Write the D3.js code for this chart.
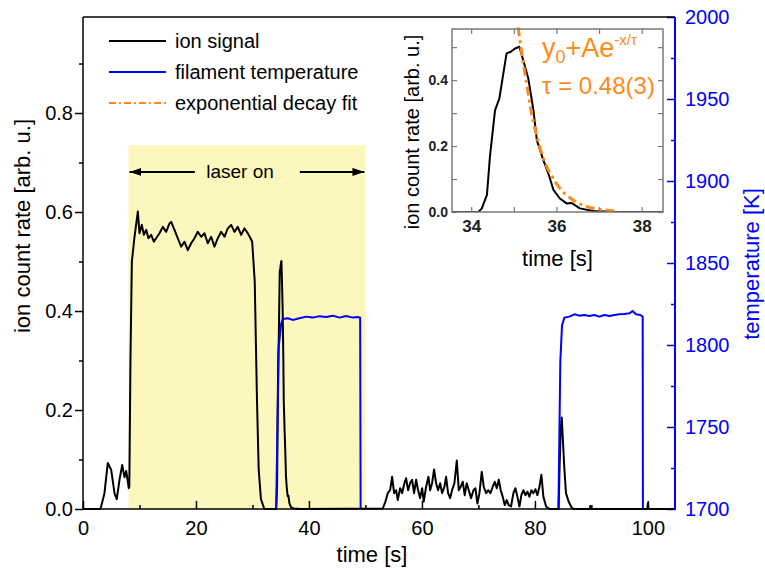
<!DOCTYPE html>
<html>
<head>
<meta charset="utf-8">
<script src="https://cdn.jsdelivr.net/npm/d3@7"></script>
<style>
  body { margin: 0; background: #fff; }
  text { font-family: "Liberation Sans", Arial, sans-serif; }
</style>
</head>
<body>
<div id="chart"></div>
<script>
// ion count rate [arb. u.] vs time [s]
var ionSignal = [
  [0,0],[3.1,0],[3.8,0.032],[4.39,0.093],[4.99,0.079],[5.58,0.032],[5.98,0.02],[6.46,0.059],
  [6.94,0.089],[7.35,0.064],[7.65,0.077],[8.1,0.042],[8.2,0.045],[8.4,0.3],[8.65,0.5],
  [9.12,0.55],[9.71,0.601],[10.0,0.557],[10.41,0.574],[10.77,0.554],[11.18,0.564],[11.59,0.547],
  [12.07,0.554],[12.54,0.54],[12.95,0.547],[13.54,0.557],[14.13,0.57],[14.72,0.56],[15.31,0.577],
  [15.61,0.58],[16.19,0.564],[16.78,0.547],[17.38,0.53],[17.96,0.54],[18.55,0.523],[19.15,0.537],
  [19.73,0.547],[20.32,0.56],[20.92,0.55],[21.5,0.557],[22.09,0.537],[22.69,0.55],[23.27,0.53],
  [23.86,0.547],[24.46,0.56],[25.04,0.55],[25.63,0.567],[26.23,0.574],[26.81,0.56],[27.4,0.57],
  [28.0,0.554],[28.58,0.567],[29.17,0.557],[29.65,0.547],[29.95,0.54],[30.4,0.46],[30.8,0.22],
  [31.1,0.08],[31.5,0.02],[32.1,0],
  [34.17,0],[34.25,0.011],[34.37,0.052],[34.44,0.168],[34.56,0.309],[34.66,0.344],[34.83,0.481],
  [34.93,0.486],[35.03,0.496],[35.13,0.501],[35.22,0.461],[35.34,0.405],[35.46,0.309],[35.54,0.218],
  [35.69,0.158],[35.81,0.117],[35.93,0.067],[36.08,0.041],[36.24,0.026],[36.36,0.027],[36.55,0.011],
  [36.86,0.003],[37.3,0.001],[38.5,0],
  [53.07,0.001],[53.54,0.015],[53.95,0.032],[54.37,0.038],[54.72,0.065],[55.08,0.032],[55.43,0.038],
  [55.72,0.018],[56.14,0.042],[56.49,0.032],[56.9,0.052],[57.2,0.062],[57.55,0.038],[57.91,0.052],
  [58.26,0.059],[58.61,0.032],[58.97,0.059],[59.32,0.038],[59.67,0.022],[60.03,0.042],[60.32,0.015],
  [60.74,0.045],[61.15,0.065],[61.45,0.038],[61.8,0.052],[62.15,0.08],[62.51,0.052],[62.86,0.038],
  [63.22,0.052],[63.57,0.032],[63.98,0.045],[64.28,0.065],[64.63,0.032],[64.99,0.022],[65.34,0.038],
  [65.75,0.052],[66.17,0.098],[66.52,0.038],[66.87,0.045],[67.23,0.055],[67.58,0.028],[67.93,0.052],
  [68.29,0.038],[68.7,0.022],[69.12,0.038],[69.47,0.042],[69.82,0.011],[70.18,0.032],[70.59,0.075],
  [70.94,0.045],[71.36,0.032],[71.72,0.038],[72.12,0.032],[72.54,0.045],[72.89,0.055],[73.24,0.042],
  [73.6,0.059],[73.95,0.038],[74.3,0.025],[74.66,0.008],[75.01,0.018],[75.36,0.008],[75.78,0.005],
  [76.19,0.032],[76.55,0.042],[76.9,0.025],[77.26,0.005],[77.61,0.028],[77.96,0.038],[78.32,0.028],
  [78.67,0.035],[79.03,0.025],[79.38,0.038],[79.73,0.032],[80.09,0.04],[80.44,0.028],[80.8,0.045],
  [81.15,0.069],[81.5,0.025],[81.98,0.005],[82.57,0],
  [84.2,0],[84.37,0.085],[84.57,0.16],[84.75,0.185],[85.2,0.085],[85.5,0.032],[86.0,0.014],
  [86.5,0.003],[86.9,0],[89.7,0],[89.8,0.006],[89.9,0],[99.9,0],[100.0,0.012],[100.1,0],[104.8,0]
];

// filament temperature [K], the two heating pulses
var tempPulse1 = [
  [34.19,1700],[34.66,1799],[35.08,1813],[35.37,1815.9],[36.25,1816.3],[37.14,1815.3],[38.32,1816.3],
  [39.5,1817.3],[40.68,1816.7],[41.86,1817.6],[43.04,1817.1],[44.22,1817.9],[45.4,1816.7],
  [46.58,1817.7],[47.76,1816.7],[48.64,1817.1],[49.06,1816.7],[49.15,1700]
];
var tempPulse2 = [
  [84.16,1700],[84.5,1790],[84.8,1812],[85.22,1816.7],[86.1,1817.3],[86.99,1818.7],[87.88,1817.9],
  [88.76,1818.3],[89.65,1817.7],[90.53,1818.3],[91.42,1817.3],[92.3,1818.3],[93.19,1817.7],
  [94.07,1818.3],[94.96,1818.7],[95.84,1818.9],[96.73,1819.3],[97.3,1820.7],[97.9,1818.7],
  [98.67,1818.3],[99.08,1817.3],[99.12,1700]
];

// exponential decay fit shown in the inset
var decayFit = [
  [35.1,0.56],[35.2,0.47],[35.3,0.39],[35.4,0.31],[35.5,0.25],[35.6,0.2],[35.7,0.16],[35.8,0.13],
  [36.0,0.085],[36.2,0.055],[36.4,0.035],[36.6,0.022],[36.8,0.013],[37.0,0.008],[37.2,0.005],[37.4,0.003]
];

var laserWindow = [8.05, 50.0], laserHeight = 0.735;

var xTicks = d3.range(0, 101, 10), xLabels = [0, 20, 40, 60, 80, 100];
var yTicks = d3.range(0, 10).map(function (d) { return d / 10; }), yLabels = [0, 0.2, 0.4, 0.6, 0.8];
var tTicks = d3.range(1700, 2001, 25), tLabels = [1700, 1750, 1800, 1850, 1900, 1950, 2000];
var insetXTicks = [34, 35, 36, 37, 38], insetXLabels = [34, 36, 38];
var insetYTicks = [0, 0.1, 0.2, 0.3, 0.4, 0.5], insetYLabels = [0, 0.2, 0.4];

var width = 765, height = 570;
var plot = {left: 83, right: 675, top: 17, bottom: 509};
var box = {left: 452, right: 663, top: 29, bottom: 212};
var orange = '#ff8a1c', blue = '#0000ff';

var svg = d3.select('#chart').append('svg')
  .attr('width', width).attr('height', height);

var x = d3.scaleLinear().domain([0, 104.8]).range([plot.left, plot.right]);
var y = d3.scaleLinear().domain([0, 0.994]).range([plot.bottom, plot.top]);
var yT = d3.scaleLinear().domain([1700, 2000]).range([plot.bottom, plot.top]);

function has(list, v) {
  return list.some(function (d) { return Math.abs(d - v) < 1e-6; });
}

// shaded laser-on window
svg.append('rect')
  .attr('x', x(laserWindow[0])).attr('y', y(laserHeight))
  .attr('width', x(laserWindow[1]) - x(laserWindow[0]))
  .attr('height', y(0) - y(laserHeight))
  .attr('fill', '#fcf7bd');

// arrows + label
var defs = svg.append('defs');
defs.append('marker').attr('id', 'arr').attr('viewBox', '0 0 12 8')
  .attr('refX', 12).attr('refY', 4).attr('markerWidth', 12).attr('markerHeight', 8)
  .attr('markerUnits', 'userSpaceOnUse').attr('orient', 'auto')
  .append('path').attr('d', 'M0,0L12,4L0,8Z').attr('fill', '#000');

var arrowY = y(0.681);
svg.append('line').attr('x1', x(19.8)).attr('x2', x(laserWindow[0]) + 1)
  .attr('y1', arrowY).attr('y2', arrowY).attr('stroke', '#000').attr('stroke-width', 2)
  .attr('marker-end', 'url(#arr)');
svg.append('line').attr('x1', x(38.4)).attr('x2', x(laserWindow[1]) - 1)
  .attr('y1', arrowY).attr('y2', arrowY).attr('stroke', '#000').attr('stroke-width', 2)
  .attr('marker-end', 'url(#arr)');
svg.append('text').attr('x', x(27.8)).attr('y', arrowY + 6)
  .attr('text-anchor', 'middle').attr('font-size', 19).text('laser on');

// data lines
var line = d3.line().x(function (d) { return x(d[0]); }).y(function (d) { return y(d[1]); });
var tline = d3.line().x(function (d) { return x(d[0]); }).y(function (d) { return yT(d[1]); });

svg.append('path').datum(ionSignal).attr('d', line)
  .attr('fill', 'none').attr('stroke', '#000').attr('stroke-width', 2).attr('stroke-linejoin', 'round');
[tempPulse1, tempPulse2].forEach(function (p) {
  svg.append('path').datum(p).attr('d', tline)
    .attr('fill', 'none').attr('stroke', blue).attr('stroke-width', 2).attr('stroke-linejoin', 'round');
});

// axes
var xAxis = svg.append('g').attr('transform', 'translate(0,' + plot.bottom + ')')
  .call(d3.axisBottom(x).tickValues(xTicks).tickSize(-8).tickPadding(12)
    .tickFormat(function (d) { return has(xLabels, d) ? d : ''; }));
xAxis.selectAll('line').attr('y2', function (d) { return has(xLabels, d) ? -8 : -4; });

var yAxis = svg.append('g').attr('transform', 'translate(' + plot.left + ',0)')
  .call(d3.axisLeft(y).tickValues(yTicks).tickSize(8).tickPadding(2)
    .tickFormat(function (d) { return has(yLabels, d) ? d3.format('.1f')(d) : ''; }));
yAxis.selectAll('line').attr('x2', function (d) { return has(yLabels, d) ? -8 : -4; });

var tAxis = svg.append('g').attr('transform', 'translate(' + plot.right + ',0)')
  .call(d3.axisRight(yT).tickValues(tTicks).tickSize(-8).tickPadding(10)
    .tickFormat(function (d) { return has(tLabels, d) ? d : ''; }));
tAxis.selectAll('line').attr('x2', function (d) { return has(tLabels, d) ? -8 : -4; });

[xAxis, yAxis, tAxis].forEach(function (g) {
  g.selectAll('text').attr('font-size', 20).attr('font-family', '"Liberation Sans", Arial, sans-serif');
  g.select('.domain').remove();
  g.selectAll('line').attr('stroke-width', 1.5);
});
tAxis.selectAll('line').attr('stroke', blue);
tAxis.selectAll('text').attr('fill', blue);

// frame
svg.append('line').attr('x1', plot.left).attr('x2', plot.right).attr('y1', plot.top).attr('y2', plot.top)
  .attr('stroke', '#000').attr('stroke-width', 1.5);
svg.append('line').attr('x1', plot.left).attr('x2', plot.left).attr('y1', plot.top).attr('y2', plot.bottom)
  .attr('stroke', '#000').attr('stroke-width', 1.5);
svg.append('line').attr('x1', plot.left).attr('x2', plot.right).attr('y1', plot.bottom).attr('y2', plot.bottom)
  .attr('stroke', '#000').attr('stroke-width', 1.5);
svg.append('line').attr('x1', plot.right).attr('x2', plot.right).attr('y1', plot.top).attr('y2', plot.bottom + 1)
  .attr('stroke', blue).attr('stroke-width', 2);

// axis titles
svg.append('text').attr('x', (plot.left + plot.right) / 2 - 7).attr('y', 562)
  .attr('text-anchor', 'middle').attr('font-size', 22).text('time [s]');
svg.append('text').attr('transform', 'translate(30,226) rotate(-90)')
  .attr('text-anchor', 'middle').attr('font-size', 22).text('ion count rate [arb. u.]');
svg.append('text').attr('transform', 'translate(759,264) rotate(-90)')
  .attr('text-anchor', 'middle').attr('font-size', 22).attr('fill', blue).text('temperature [K]');

// legend
var legend = [
  {label: 'ion signal', color: '#000', dash: null},
  {label: 'filament temperature', color: blue, dash: null},
  {label: 'exponential decay fit', color: orange, dash: '7,3,2,3'}
];
legend.forEach(function (d, i) {
  var ly = 41 + i * 31;
  svg.append('line').attr('x1', 109).attr('x2', 166).attr('y1', ly).attr('y2', ly)
    .attr('stroke', d.color).attr('stroke-width', 2).attr('stroke-dasharray', d.dash);
  svg.append('text').attr('x', 175).attr('y', ly + 7).attr('font-size', 20).text(d.label);
});

// inset
var ix = d3.scaleLinear().domain([33.55, 38.5]).range([box.left, box.right]);
var iy = d3.scaleLinear().domain([0, 0.555]).range([box.bottom, box.top]);

svg.append('rect').attr('x', box.left).attr('y', box.top)
  .attr('width', box.right - box.left).attr('height', box.bottom - box.top).attr('fill', '#fff');

defs.append('clipPath').attr('id', 'insetClip').append('rect')
  .attr('x', box.left).attr('y', box.top - 8)
  .attr('width', box.right - box.left).attr('height', box.bottom - box.top + 8);

var inner = svg.append('g').attr('clip-path', 'url(#insetClip)');
var iline = d3.line().x(function (d) { return ix(d[0]); }).y(function (d) { return iy(d[1]); });
inner.append('path').datum(ionSignal.filter(function (d) { return d[0] >= 32 && d[0] <= 40; }))
  .attr('d', iline).attr('fill', 'none').attr('stroke', '#000').attr('stroke-width', 2)
  .attr('stroke-linejoin', 'round');
inner.append('path').datum(decayFit).attr('d', iline)
  .attr('fill', 'none').attr('stroke', orange).attr('stroke-width', 3)
  .attr('stroke-dasharray', '9,4,3,4');

var grey = '#7a7a7a';
var iax = [
  svg.append('g').attr('transform', 'translate(0,' + box.bottom + ')')
    .call(d3.axisBottom(ix).tickValues(insetXTicks).tickSize(-5).tickPadding(8)
      .tickFormat(function (d) { return has(insetXLabels, d) ? d : ''; })),
  svg.append('g').attr('transform', 'translate(0,' + box.top + ')')
    .call(d3.axisTop(ix).tickValues(insetXTicks).tickSize(-5).tickFormat('')),
  svg.append('g').attr('transform', 'translate(' + box.left + ',0)')
    .call(d3.axisLeft(iy).tickValues(insetYTicks).tickSize(-5).tickPadding(4)
      .tickFormat(function (d) { return has(insetYLabels, d) ? d3.format('.1f')(d) : ''; })),
  svg.append('g').attr('transform', 'translate(' + box.right + ',0)')
    .call(d3.axisRight(iy).tickValues(insetYTicks).tickSize(-5).tickFormat(''))
];
iax.forEach(function (g) {
  g.select('.domain').remove();
  g.selectAll('line').attr('stroke', grey).attr('stroke-width', 1.2);
  g.selectAll('text').attr('font-weight', 'bold').attr('fill', '#222')
    .attr('font-family', '"Liberation Sans", Arial, sans-serif');
});
iax[0].selectAll('text').attr('font-size', 17);
iax[2].selectAll('text').attr('font-size', 14);

svg.append('rect').attr('x', box.left).attr('y', box.top)
  .attr('width', box.right - box.left).attr('height', box.bottom - box.top)
  .attr('fill', 'none').attr('stroke', grey).attr('stroke-width', 1.5);

svg.append('text').attr('x', (box.left + box.right) / 2).attr('y', 266)
  .attr('text-anchor', 'middle').attr('font-size', 22).text('time [s]');
svg.append('text').attr('transform', 'translate(419,132) rotate(-90)')
  .attr('text-anchor', 'middle').attr('font-size', 20).text('ion count rate [arb. u.]');

var formula = svg.append('text').attr('x', 542).attr('y', 57).attr('font-size', 27).attr('fill', orange);
formula.append('tspan').text('y');
formula.append('tspan').attr('font-size', 18).attr('dy', 6).text('0');
formula.append('tspan').attr('dy', -6).text('+Ae');
formula.append('tspan').attr('font-size', 15).attr('dy', -12).text('-x/\u03c4');
svg.append('text').attr('x', 542).attr('y', 94).attr('font-size', 24).attr('fill', orange)
  .text('\u03c4 = 0.48(3)');
</script>
</body>
</html>
